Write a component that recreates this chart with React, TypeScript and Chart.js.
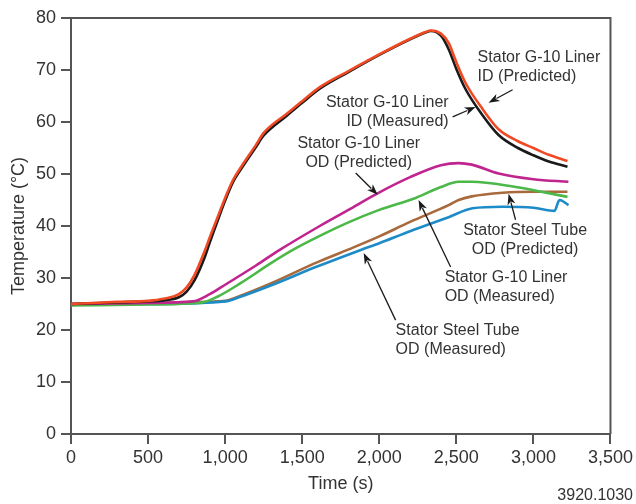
import React, { useEffect, useRef } from "react";
import { Chart, registerables } from "chart.js";

Chart.register(...registerables);

// ---- Data (time in s, temperature in °C) ----
const idPredictedT = [0, 300, 500, 600, 700, 750, 800, 870, 900, 950, 1000, 1050, 1100, 1200, 1250, 1400, 1500, 1614, 1800, 2000, 2200, 2300, 2335, 2400, 2450, 2500, 2560, 2670, 2774, 2900, 3000, 3100, 3221];
const idPredictedV = [25.0, 25.4, 25.6, 26.0, 26.9, 28.2, 30.5, 35.4, 37.8, 41.6, 45.4, 48.8, 51.2, 55.6, 57.9, 61.6, 64.0, 66.7, 69.8, 73.0, 76.0, 77.3, 77.6, 77.0, 75.2, 71.5, 67.5, 62.5, 58.6, 56.3, 55.0, 53.7, 52.5];

const idMeasuredT = [0, 300, 500, 600, 700, 750, 800, 870, 900, 950, 1000, 1050, 1100, 1200, 1250, 1400, 1500, 1614, 1800, 2000, 2200, 2300, 2335, 2400, 2450, 2500, 2560, 2670, 2774, 2900, 3000, 3100, 3221];
const idMeasuredV = [25.0, 25.3, 25.5, 25.7, 26.3, 27.4, 29.5, 34.2, 36.8, 40.9, 44.9, 48.4, 50.8, 55.2, 57.4, 61.2, 63.7, 66.4, 69.6, 72.9, 75.9, 77.2, 77.5, 76.6, 74.0, 70.2, 66.3, 61.3, 57.5, 55.0, 53.6, 52.4, 51.4];

const odG10PredictedT = [0, 500, 790, 900, 1000, 1200, 1354, 1614, 1800, 1977, 2200, 2400, 2515, 2600, 2775, 3000, 3227];
const odG10PredictedV = [25.0, 25.2, 25.5, 26.9, 28.7, 32.4, 35.4, 40.0, 43.1, 46.1, 49.4, 51.7, 52.1, 51.8, 50.1, 49.0, 48.5];

const odG10MeasuredT = [0, 500, 850, 950, 1100, 1300, 1439, 1614, 1800, 2000, 2236, 2400, 2515, 2600, 2884, 3050, 3221];
const odG10MeasuredV = [24.7, 24.9, 25.3, 26.4, 29.0, 32.9, 35.4, 38.1, 40.7, 43.1, 45.4, 47.5, 48.5, 48.5, 47.5, 46.6, 45.6];

const tubePredictedT = [0, 500, 1000, 1100, 1300, 1588, 1802, 2000, 2200, 2450, 2515, 2600, 2800, 3000, 3221];
const tubePredictedV = [25.0, 25.2, 25.6, 26.6, 29.0, 32.9, 35.5, 38.0, 40.8, 44.0, 45.0, 45.7, 46.4, 46.6, 46.6];

const tubeMeasuredT = [0, 500, 1000, 1100, 1300, 1588, 1880, 2000, 2200, 2450, 2605, 2800, 3000, 3137, 3169, 3228];
const tubeMeasuredV = [24.9, 25.0, 25.5, 26.4, 28.6, 32.1, 35.4, 36.7, 39.0, 41.7, 43.4, 43.7, 43.5, 42.9, 45.0, 44.0];

const xTicks = [0, 500, 1000, 1500, 2000, 2500, 3000, 3500];
const yTicks = [0, 10, 20, 30, 40, 50, 60, 70, 80];

// Annotation labels: text lines, anchor (time, temp) of first line, alignment
const labelLines = [
  ["Stator G-10 Liner", "ID (Predicted)"],
  ["Stator G-10 Liner", "ID (Measured)"],
  ["Stator G-10 Liner", "OD (Predicted)"],
  ["Stator Steel Tube", "OD (Predicted)"],
  ["Stator G-10 Liner", "OD (Measured)"],
  ["Stator Steel Tube", "OD (Measured)"],
];
const labelAnchorT = [2638, 2450, 1867, 2946, 2424, 2106];
const labelAnchorV = [72.3, 63.8, 55.8, 39.2, 30.0, 19.8];
const labelLineAlign = [
  ["left", "left"],
  ["right", "right"],
  ["center", "center"],
  ["center", "center"],
  ["left", "left"],
  ["left", "left"],
];

// Arrows: from (t, v) to (t, v)
const arrowFromT = [2865, 2476, 1847, 2884, 2463, 2106];
const arrowFromV = [66.2, 61.0, 50.2, 41.2, 32.1, 21.9];
const arrowToT = [2709, 2625, 1990, 2839, 2255, 1899];
const arrowToV = [63.7, 62.9, 46.0, 46.2, 45.0, 34.8];

const footnote = "3920.1030";

function pts(t: number[], v: number[]) {
  return t.map((x, i) => ({ x, y: v[i] }));
}

const FONT = "'Liberation Sans', Arial, sans-serif";
const TEXT = "#333333";
const AXIS = "#555555";

const annotationPlugin = {
  id: "annot",
  afterDatasetsDraw(chart: any) {
    const { ctx, scales, chartArea } = chart;
    const xs = scales.x;
    const ys = scales.y;
    ctx.save();
    // top and right frame
    ctx.strokeStyle = AXIS;
    ctx.lineWidth = 2;
    ctx.beginPath();
    ctx.moveTo(chartArea.left, chartArea.top);
    ctx.lineTo(chartArea.right, chartArea.top);
    ctx.lineTo(chartArea.right, chartArea.bottom);
    ctx.stroke();

    // labels
    ctx.fillStyle = TEXT;
    ctx.font = "16px " + FONT;
    ctx.textBaseline = "middle";
    labelLines.forEach((lines, i) => {
      const px = xs.getPixelForValue(labelAnchorT[i]);
      const py = ys.getPixelForValue(labelAnchorV[i]);
      lines.forEach((line, j) => {
        ctx.textAlign = labelLineAlign[i][j] as CanvasTextAlign;
        ctx.fillText(line, px, py + j * 19);
      });
    });

    // arrows
    ctx.strokeStyle = "#1a1a1a";
    ctx.fillStyle = "#1a1a1a";
    ctx.lineWidth = 1.3;
    arrowFromT.forEach((_, i) => {
      const x1 = xs.getPixelForValue(arrowFromT[i]);
      const y1 = ys.getPixelForValue(arrowFromV[i]);
      const x2 = xs.getPixelForValue(arrowToT[i]);
      const y2 = ys.getPixelForValue(arrowToV[i]);
      const ang = Math.atan2(y2 - y1, x2 - x1);
      const hl = 11;
      const hw = 4;
      const bx = x2 - hl * Math.cos(ang);
      const by = y2 - hl * Math.sin(ang);
      ctx.beginPath();
      ctx.moveTo(x1, y1);
      ctx.lineTo(bx + 2 * Math.cos(ang), by + 2 * Math.sin(ang));
      ctx.stroke();
      ctx.beginPath();
      ctx.moveTo(x2, y2);
      ctx.lineTo(bx - hw * Math.sin(ang), by + hw * Math.cos(ang));
      ctx.lineTo(bx + 3 * Math.cos(ang), by + 3 * Math.sin(ang));
      ctx.lineTo(bx + hw * Math.sin(ang), by - hw * Math.cos(ang));
      ctx.closePath();
      ctx.fill();
    });

    // footnote
    ctx.fillStyle = TEXT;
    ctx.font = "16px " + FONT;
    ctx.textAlign = "right";
    ctx.textBaseline = "middle";
    ctx.fillText(footnote, 633, 496);
    ctx.restore();
  },
};

export default function App() {
  const ref = useRef<HTMLCanvasElement | null>(null);
  useEffect(() => {
    document.body.style.margin = "0";
    const canvas = ref.current!;
    const ds = (label: string, t: number[], v: number[], color: string) => ({
      label,
      data: pts(t, v),
      borderColor: color,
      backgroundColor: color,
      borderWidth: 2.6,
      pointRadius: 0,
      cubicInterpolationMode: "monotone" as const,
      fill: false,
    });
    // Chart.js paints dataset 0 on top
    const chart = new Chart(canvas, {
      type: "line",
      data: {
        datasets: [
          ds("Stator G-10 Liner ID (Predicted)", idPredictedT, idPredictedV, "#f04a24"),
          ds("Stator G-10 Liner ID (Measured)", idMeasuredT, idMeasuredV, "#1a1a1a"),
          ds("Stator G-10 Liner OD (Predicted)", odG10PredictedT, odG10PredictedV, "#c0248f"),
          ds("Stator G-10 Liner OD (Measured)", odG10MeasuredT, odG10MeasuredV, "#4bb848"),
          ds("Stator Steel Tube OD (Measured)", tubeMeasuredT, tubeMeasuredV, "#1d8bc8"),
          ds("Stator Steel Tube OD (Predicted)", tubePredictedT, tubePredictedV, "#a86a3c"),
        ],
      },
      options: {
        responsive: false,
        animation: false,
        layout: { padding: { top: 18, right: 25, left: 0, bottom: 0 } },
        plugins: { legend: { display: false }, tooltip: { enabled: false } },
        scales: {
          x: {
            type: "linear",
            min: 0,
            max: 3500,
            afterFit: (s: any) => {
              s.height = 70;
            },
            afterBuildTicks: (s: any) => {
              s.ticks = xTicks.map((v) => ({ value: v }));
            },
            ticks: {
              color: TEXT,
              font: { family: FONT, size: 18 },
              padding: 3,
              maxRotation: 0,
              callback: (v: any) => Number(v).toLocaleString("en-US"),
            },
            grid: {
              drawOnChartArea: false,
              drawTicks: true,
              tickLength: 10,
              color: AXIS,
              lineWidth: 2,
            },
            border: { display: true, color: AXIS, width: 2 },
            title: {
              display: true,
              text: "Time (s)",
              color: TEXT,
              font: { family: FONT, size: 18 },
              padding: { top: 0, bottom: 9 },
            },
          },
          y: {
            type: "linear",
            min: 0,
            max: 80,
            afterFit: (s: any) => {
              s.width = 71;
            },
            afterBuildTicks: (s: any) => {
              s.ticks = yTicks.map((v) => ({ value: v }));
            },
            ticks: {
              color: TEXT,
              font: { family: FONT, size: 18 },
              padding: 5,
            },
            grid: {
              drawOnChartArea: false,
              drawTicks: true,
              tickLength: 10,
              color: AXIS,
              lineWidth: 2,
            },
            border: { display: true, color: AXIS, width: 2 },
            title: {
              display: true,
              text: "Temperature (°C)",
              color: TEXT,
              font: { family: FONT, size: 18 },
              padding: { top: 8, bottom: 0 },
            },
          },
        },
      },
      plugins: [annotationPlugin],
    });
    return () => chart.destroy();
  }, []);
  return (
    <canvas
      ref={ref}
      width={636}
      height={504}
      style={{ display: "block", width: 636, height: 504 }}
    />
  );
}
